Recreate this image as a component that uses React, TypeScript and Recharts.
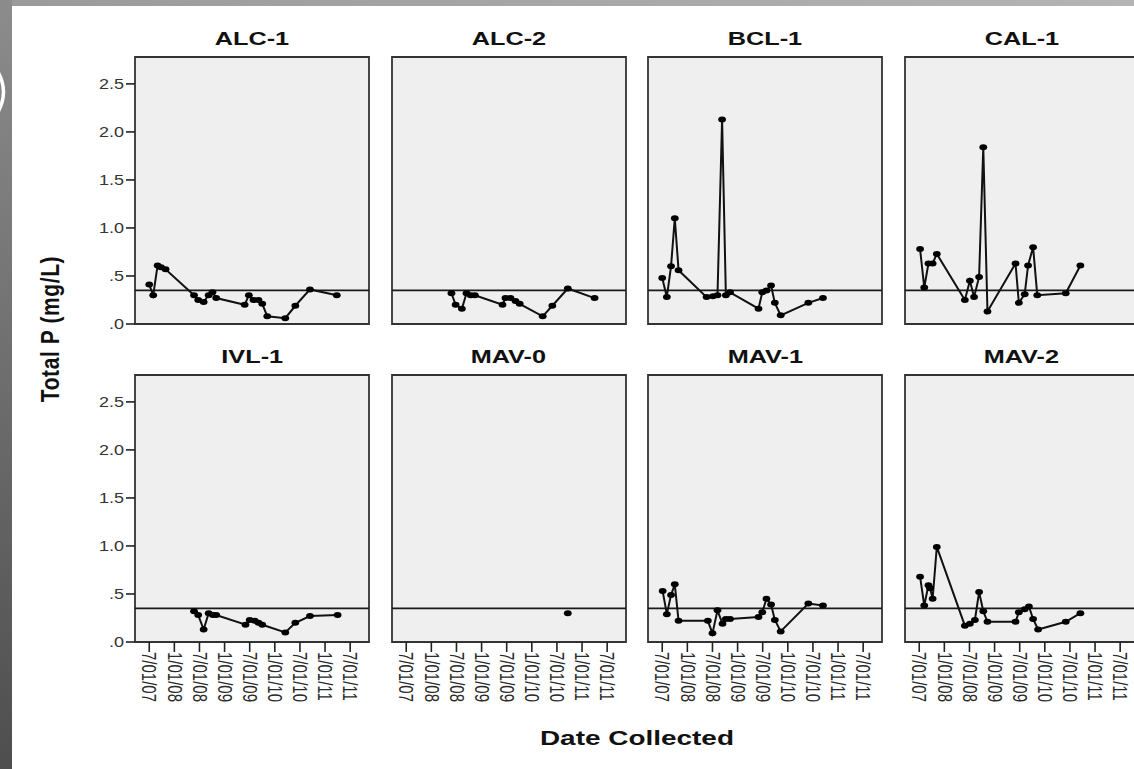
import React from "react";
import {
  LineChart,
  Line,
  XAxis,
  YAxis,
  CartesianGrid,
  ReferenceLine,
  ReferenceArea,
} from "recharts";

// x = months since 7/01/07
const X_DOMAIN = [-3.4, 52.5];
const TICK_VALUES = [0, 6, 12, 18, 24, 30, 36, 42, 48];
const TICK_LABELS = ["7/01/07", "1/01/08", "7/01/08", "1/01/09", "7/01/09", "1/01/10", "7/01/10", "1/01/11", "7/01/11"];
const Y_TICKS = [0, 0.5, 1, 1.5, 2, 2.5];
const Y_TICK_LABELS = [".0", ".5", "1.0", "1.5", "2.0", "2.5"];
const Y_MAX = 2.78;
const THRESHOLD = 0.35;

const SITES = ["ALC-1", "ALC-2", "BCL-1", "CAL-1", "IVL-1", "MAV-0", "MAV-1", "MAV-2"];

const alc1 = [
  [0, 0.41], [0.95, 0.3], [2.0, 0.61], [2.8, 0.59], [3.9, 0.57], [10.7, 0.3], [11.7, 0.25], [13.0, 0.23],
  [14.2, 0.3], [15.1, 0.33], [16.0, 0.27], [22.8, 0.2], [23.8, 0.3], [24.9, 0.25], [26.1, 0.25], [27.0, 0.21],
  [28.2, 0.08], [32.5, 0.06], [34.9, 0.19], [38.4, 0.36], [44.8, 0.3],
];
const alc2 = [
  [10.8, 0.32], [11.8, 0.2], [13.3, 0.16], [14.4, 0.32], [15.4, 0.3], [16.4, 0.3], [23.0, 0.2], [23.7, 0.27],
  [24.9, 0.27], [26.1, 0.24], [27.1, 0.21], [32.6, 0.08], [34.9, 0.19], [38.6, 0.37], [45.0, 0.27],
];
const bcl1 = [
  [0, 0.48], [1.1, 0.28], [2.1, 0.6], [3.0, 1.1], [3.9, 0.56], [10.6, 0.28], [12.1, 0.29], [13.2, 0.3],
  [14.3, 2.13], [15.2, 0.3], [16.2, 0.33], [23.0, 0.16], [23.9, 0.33], [24.9, 0.35], [26.0, 0.4], [26.9, 0.22],
  [28.3, 0.09], [34.9, 0.22], [38.4, 0.27],
];
const cal1 = [
  [0.2, 0.78], [1.2, 0.38], [2.2, 0.63], [3.2, 0.63], [4.2, 0.73], [10.9, 0.25], [12.1, 0.45], [13.1, 0.28],
  [14.3, 0.49], [15.3, 1.84], [16.3, 0.13], [23.0, 0.63], [23.8, 0.22], [25.2, 0.31], [26.0, 0.61], [27.2, 0.8],
  [28.2, 0.3], [35.0, 0.32], [38.5, 0.61],
];
const ivl1 = [
  [10.7, 0.32], [11.7, 0.28], [13.0, 0.13], [14.2, 0.3], [15.2, 0.28], [16.0, 0.28], [23.0, 0.18], [24.0, 0.23],
  [25.2, 0.22], [26.1, 0.2], [27.0, 0.18], [32.5, 0.1], [34.9, 0.2], [38.4, 0.27], [45.0, 0.28],
];
const mav0 = [[38.6, 0.3]];
const mav1 = [
  [0.1, 0.53], [1.1, 0.29], [2.1, 0.49], [3.0, 0.6], [3.9, 0.22], [10.9, 0.22], [12.0, 0.09], [13.2, 0.33],
  [14.4, 0.19], [15.2, 0.24], [16.2, 0.24], [23.0, 0.26], [23.9, 0.31], [24.9, 0.45], [26.0, 0.39], [26.9, 0.23],
  [28.3, 0.11], [34.9, 0.4], [38.4, 0.38],
];
const mav2 = [
  [0.2, 0.68], [1.2, 0.38], [2.2, 0.59], [2.6, 0.56], [3.2, 0.45], [4.2, 0.99], [10.9, 0.17], [12.1, 0.19],
  [13.3, 0.23], [14.3, 0.52], [15.3, 0.32], [16.3, 0.21], [23.0, 0.21], [23.8, 0.31], [25.2, 0.34], [26.2, 0.37],
  [27.2, 0.24], [28.4, 0.13], [35.0, 0.21], [38.5, 0.3],
];
const SERIES = [alc1, alc2, bcl1, cal1, ivl1, mav0, mav1, mav2];

const FONT = "'Liberation Sans', Arial, Helvetica, sans-serif";
const STRETCH = 1.33;

const PANEL_W = 234;
const PANEL_H = 267;
const COL_LEFT = [135, 391.5, 648, 904.5];
const ROW_TOP = [57, 374.5];
const PAD = 2;

const XTick = (props: any) => {
  const { x, y, payload } = props;
  const i = TICK_VALUES.indexOf(payload.value);
  return (
    <text
      transform={`translate(${x},${y}) scale(${STRETCH},1) rotate(90)`}
      textAnchor="start"
      dominantBaseline="central"
      fontSize={15}
      fontFamily={FONT}
      fill="#2a2a2a"
    >
      {i >= 0 ? TICK_LABELS[i] : ""}
    </text>
  );
};

const YTick = (props: any) => {
  const { x, y, payload } = props;
  const i = Y_TICKS.indexOf(payload.value);
  return (
    <text
      transform={`translate(${x},${y}) scale(1.2,1)`}
      textAnchor="end"
      dominantBaseline="central"
      fontSize={15}
      fontFamily={FONT}
      fill="#333"
    >
      {i >= 0 ? Y_TICK_LABELS[i] : ""}
    </text>
  );
};

const Dot = (props: any) => {
  const { cx, cy, index } = props;
  if (cx == null || cy == null) return <g key={`d${index}`} />;
  return <ellipse key={`d${index}`} cx={cx} cy={cy} rx={3.9} ry={3} fill="#000" />;
};

function Panel({ idx }: { idx: number }) {
  const col = idx % 4;
  const row = Math.floor(idx / 4);
  const showY = col === 0;
  const showX = row === 1;
  const yW = showY ? 48 : 0;
  const xH = showX ? 70 : 0;
  const bottomPad = showX ? PAD : 12;
  const data = SERIES[idx].map(([m, v]) => ({ m, v }));
  const L = COL_LEFT[col];
  const T = ROW_TOP[row];
  return (
    <>
      <div
        style={{
          position: "absolute",
          left: L,
          top: T - 30,
          width: PANEL_W,
          height: 24,
          display: "flex",
          alignItems: "center",
          justifyContent: "center",
          fontFamily: FONT,
          fontWeight: "bold",
          fontSize: 19,
          color: "#111",
          whiteSpace: "nowrap",
        }}
      >
        <span style={{ display: "inline-block", transform: `scaleX(${STRETCH})` }}>{SITES[idx]}</span>
      </div>
      <div style={{ position: "absolute", left: L - yW - PAD, top: T - PAD }}>
        <LineChart
          width={yW + PANEL_W + PAD * 2}
          height={PANEL_H + xH + PAD + bottomPad}
          data={data}
          margin={{ top: PAD, right: PAD, bottom: bottomPad, left: PAD }}
        >
          <CartesianGrid horizontal={false} vertical={false} fill="#efefef" fillOpacity={1} />
          <XAxis
            dataKey="m"
            type="number"
            domain={X_DOMAIN}
            ticks={TICK_VALUES}
            allowDataOverflow
            hide={!showX}
            height={xH}
            axisLine={false}
            tickLine={{ stroke: "#222", strokeWidth: 1.6 }}
            tickSize={10}
            tickMargin={0}
            tick={<XTick />}
            interval={0}
          />
          <YAxis
            type="number"
            domain={[0, Y_MAX]}
            ticks={Y_TICKS}
            allowDataOverflow
            hide={!showY}
            width={yW}
            axisLine={false}
            tickLine={{ stroke: "#222", strokeWidth: 1.6 }}
            tickSize={9}
            tickMargin={2}
            tick={<YTick />}
            interval={0}
          />
          <ReferenceLine y={THRESHOLD} stroke="#1a1a1a" strokeWidth={1.6} />
          <Line
            dataKey="v"
            type="linear"
            stroke="#111"
            strokeWidth={2}
            dot={Dot}
            activeDot={false}
            isAnimationActive={false}
          />
          <ReferenceArea
            x1={X_DOMAIN[0]}
            x2={X_DOMAIN[1]}
            y1={0}
            y2={Y_MAX}
            fill="none"
            fillOpacity={0}
            stroke="#333"
            strokeWidth={1.8}
            ifOverflow="visible"
          />
        </LineChart>
      </div>
    </>
  );
}

export default function App() {
  return (
    <div
      style={{
        position: "absolute",
        left: 0,
        top: 0,
        width: 1134,
        height: 769,
        overflow: "hidden",
        background: "#fff",
        fontFamily: FONT,
      }}
    >
      <div
        style={{
          position: "absolute",
          left: 0,
          top: 0,
          width: 1134,
          height: 6,
          background: "linear-gradient(to right, #9a9a9a, #b4b4b4)",
        }}
      />
      <div
        style={{
          position: "absolute",
          left: 0,
          top: 0,
          width: 12,
          height: 769,
          background: "linear-gradient(to bottom, #8c8c8c, #4e4e4e)",
        }}
      />
      <svg
        width={12}
        height={60}
        style={{ position: "absolute", left: 0, top: 62 }}
      >
        <path d="M -2 10 Q 9 30 -2 50" stroke="#fff" strokeWidth={3.5} fill="none" />
      </svg>
      {SITES.map((_, i) => (
        <Panel key={i} idx={i} />
      ))}
      <div
        style={{
          position: "absolute",
          left: 51 - 110,
          top: 329 - 15,
          width: 220,
          height: 30,
          display: "flex",
          alignItems: "center",
          justifyContent: "center",
          fontWeight: "bold",
          fontSize: 21,
          letterSpacing: 0.6,
          color: "#111",
          whiteSpace: "nowrap",
          transform: `scaleX(1.2) rotate(-90deg)`,
        }}
      >
        Total P (mg/L)
      </div>
      <div
        style={{
          position: "absolute",
          left: 637 - 150,
          top: 738 - 15,
          width: 300,
          height: 30,
          display: "flex",
          alignItems: "center",
          justifyContent: "center",
          fontWeight: "bold",
          fontSize: 21,
          color: "#111",
          whiteSpace: "nowrap",
        }}
      >
        <span style={{ display: "inline-block", transform: `scaleX(${STRETCH})` }}>Date Collected</span>
      </div>
    </div>
  );
}
